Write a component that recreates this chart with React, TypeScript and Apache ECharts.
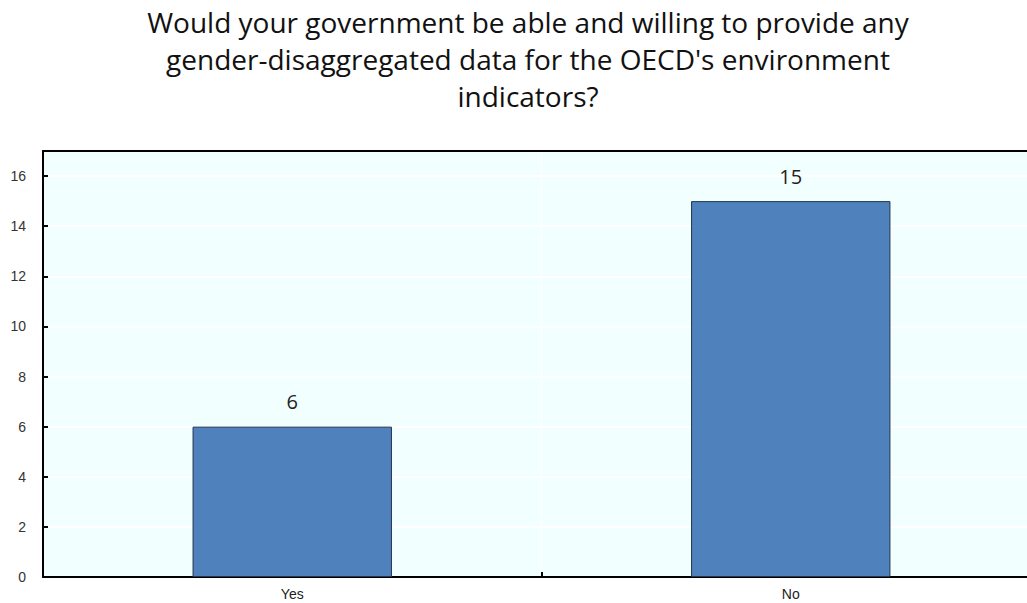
import React, { useEffect, useRef } from "react";
import * as echarts from "echarts";

const categories = ["Yes", "No"];
const values = [6, 15];
const titleText =
  "Would your government be able and willing to provide any\ngender-disaggregated data for the OECD's environment\nindicators?";

export default function App() {
  const ref = useRef<HTMLDivElement>(null);
  useEffect(() => {
    document.body.style.overflow = "hidden";
    const chart = echarts.init(ref.current!, null, { renderer: "svg" });
    chart.setOption({
      animation: false,
      title: {
        text: titleText,
        left: 523,
        top: -2,
        textAlign: "center",
        textStyle: {
          fontFamily: "Open Sans",
          fontSize: 28,
          fontWeight: "normal",
          color: "#111",
          lineHeight: 37,
        },
      },
      grid: {
        left: 43,
        right: 5,
        top: 151,
        bottom: 26,
        show: true,
        backgroundColor: "#F2FFFF",
        borderWidth: 0,
      },
      xAxis: [
        {
          type: "category",
          data: categories,
          axisLine: { show: true, lineStyle: { color: "#000", width: 2 } },
          axisTick: { show: true, inside: true, length: 5, lineStyle: { color: "#000", width: 2 } },
          axisLabel: { color: "#222", fontFamily: "Liberation Sans", fontSize: 14, margin: 10 },
          splitLine: { show: true, showMinLine: false, showMaxLine: false, lineStyle: { color: "#fff", width: 1 } },
        },
        {
          type: "category",
          data: categories,
          position: "top",
          axisLine: { show: true, lineStyle: { color: "#000", width: 2 } },
          axisTick: { show: false },
          axisLabel: { show: false },
          splitLine: { show: false },
        },
      ],
      yAxis: {
        type: "value",
        min: 0,
        max: 17,
        interval: 2,
        axisLine: { show: true, lineStyle: { color: "#000", width: 2 } },
        axisTick: { show: true, inside: true, length: 5, lineStyle: { color: "#000", width: 2 } },
        axisLabel: {
          color: "#333",
          fontFamily: "Liberation Sans",
          fontSize: 14,
          margin: 17,
          formatter: (v: number) => (v % 2 === 0 ? String(v) : ""),
        },
        splitLine: { show: true, showMinLine: false, showMaxLine: false, lineStyle: { color: "#fff", width: 2 } },
      },
      series: [
        {
          type: "bar",
          data: values,
          barWidth: "40%",
          itemStyle: { color: "#4F81BD", borderColor: "#22364f", borderWidth: 1 },
          label: {
            show: true,
            position: "top",
            distance: 15,
            fontFamily: "Open Sans",
            fontSize: 20,
            color: "#222",
          },
        },
      ],
    });
    return () => chart.dispose();
  }, []);
  return (
    <div
      ref={ref}
      style={{ position: "fixed", left: 0, top: 0, width: 1045, height: 603, background: "#fff" }}
    />
  );
}
